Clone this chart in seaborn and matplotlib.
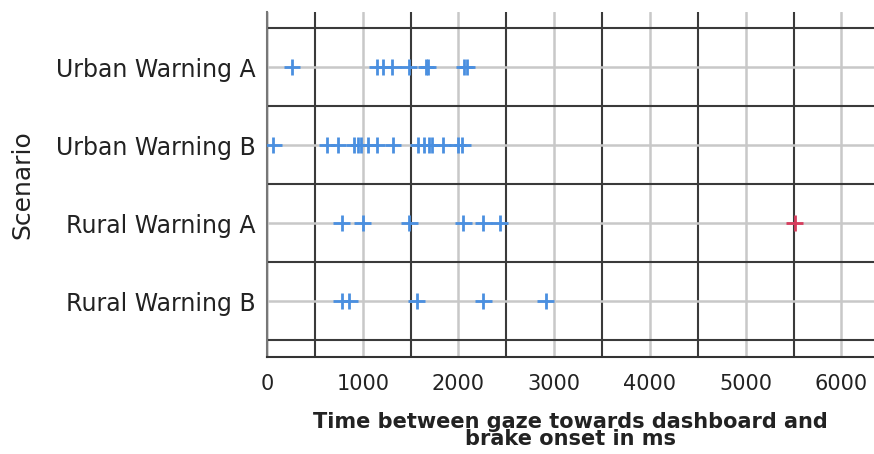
import matplotlib
matplotlib.use("Agg")
import matplotlib.pyplot as plt
import seaborn as sns
import pandas as pd
import numpy as np

scenarios = ["Urban Warning A", "Urban Warning B", "Rural Warning A", "Rural Warning B"]
urban_a = [260, 1150, 1210, 1310, 1480, 1660, 1680, 2060, 2090]
urban_b = [65, 626, 741, 908, 950, 981, 1054, 1148, 1315, 1580, 1640, 1690, 1720, 1840, 1990, 2040]
rural_a = [780, 1000, 1485, 2050, 2260, 2430]
rural_a_outlier = [5510]
rural_b = [780, 860, 1563, 2258, 2909]

rows = []
for name, vals in zip(scenarios, [urban_a, urban_b, rural_a, rural_b]):
    for v in vals:
        rows.append((name, v, "normal"))
for v in rural_a_outlier:
    rows.append(("Rural Warning A", v, "outlier"))
df = pd.DataFrame(rows, columns=["Scenario", "Time", "Type"])

sns.set_style("white")
plt.rcParams["font.family"] = ["DejaVu Sans"]

fig = plt.figure(figsize=(8.74, 4.54), dpi=100)
ax = fig.add_axes([267/874, 1 - 357/454, 1 - 267/874, (357 - 12)/454])

sns.stripplot(data=df, x="Time", y="Scenario", hue="Type", order=scenarios,
              palette={"normal": "#4a8fe0", "outlier": "#d63c5c"},
              jitter=False, marker="+", size=12, linewidth=2.0, legend=False, ax=ax, zorder=5)

ax.set_xlim(0, 6340)
ax.set_ylim(3.5 + 17/78, -0.5 - 16/78)
ax.set_xticks(np.arange(0, 6001, 1000))
ax.set_xticks(np.arange(500, 6001, 1000), minor=True)
ax.set_yticks(range(len(scenarios)))
ax.set_yticklabels(scenarios)
ax.set_yticks(np.arange(-0.5, 3.6, 1.0), minor=True)
ax.grid(which="major", color="#c8c8c8", linewidth=1.8, zorder=0)
ax.grid(which="minor", color="#3a3a3a", linewidth=1.5, zorder=1)
ax.set_axisbelow(True)
ax.tick_params(which="both", length=0)
ax.tick_params(axis="y", labelsize=17, pad=8, labelcolor="#222222")
ax.tick_params(axis="x", labelsize=15, pad=12, labelcolor="#222222")
for s in ["top", "right"]:
    ax.spines[s].set_visible(False)
ax.spines["left"].set_color("#777777")
ax.spines["left"].set_linewidth(1.5)
ax.spines["bottom"].set_color("#333333")
ax.spines["bottom"].set_linewidth(1.5)

ax.set_xlabel("Time between gaze towards dashboard and\nbrake onset in ms", fontsize=15,
              fontweight="bold", color="#222222", labelpad=13, linespacing=0.85)
ax.set_ylabel("Scenario", fontsize=18, color="#222222", labelpad=16)

fig.savefig("out.png", dpi=100)
